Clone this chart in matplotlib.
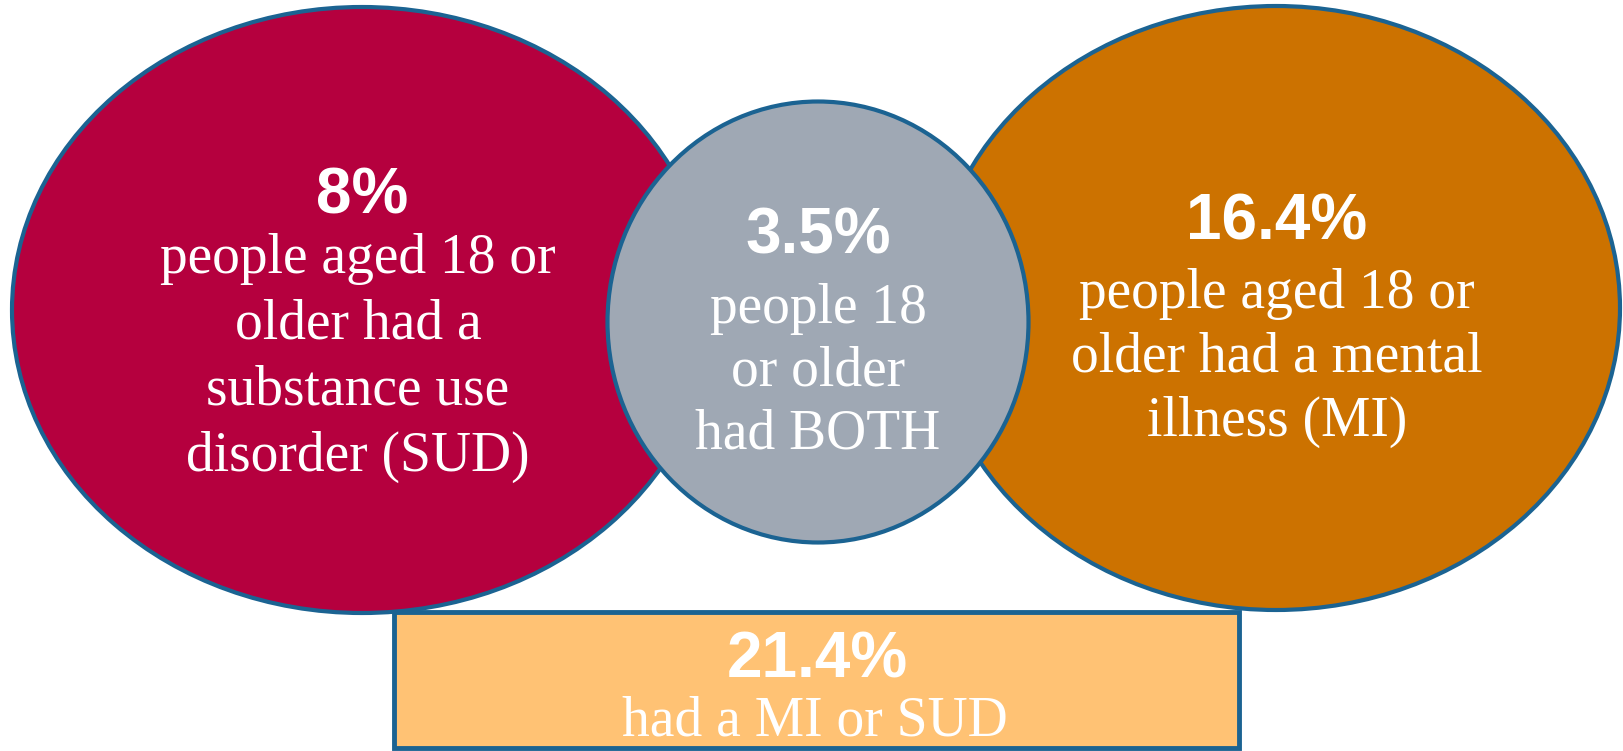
import matplotlib
matplotlib.use("Agg")
import matplotlib.pyplot as plt
from matplotlib.patches import Ellipse, Rectangle

# values shown on the chart
group_names = ["SUD", "BOTH", "MI", "MI or SUD"]
percent_values = [8, 3.5, 16.4, 21.4]
percent_labels = ["8%", "3.5%", "16.4%", "21.4%"]
caption_texts = [
    "people aged 18 or\nolder had a\nsubstance use\ndisorder (SUD)",
    "people 18\nor older\nhad BOTH",
    "people aged 18 or\nolder had a mental\nillness (MI)",
    "had a MI or SUD",
]

# colours
fill_colors = ["#B5003E", "#9FA8B4", "#CC7200", "#FFC274"]
edge_color = "#1B6392"

# layout in pixel space (figure is 1623 x 751 px)
W, H = 1623, 751
fig = plt.figure(figsize=(W / 100, H / 100), dpi=100)
ax = fig.add_axes([0, 0, 1, 1])
ax.set_xlim(0, W)
ax.set_ylim(H, 0)
ax.axis("off")

# shapes: (center x, center y, width, height)
shapes = [
    (362, 310, 700, 606),   # SUD ellipse
    (818, 322, 421, 441),   # BOTH circle
    (1276, 308, 688, 604),  # MI ellipse
]
draw_order = [0, 2, 1]
for i in draw_order:
    cx, cy, w, h = shapes[i]
    ax.add_patch(Ellipse((cx, cy), w, h, facecolor=fill_colors[i],
                         edgecolor=edge_color, linewidth=3, zorder=2 + (i == 1)))

rect = (394, 612, 845, 136)
ax.add_patch(Rectangle((rect[0], rect[1]), rect[2], rect[3],
                       facecolor=fill_colors[3], edgecolor=edge_color,
                       linewidth=3.5, zorder=4))

# text positions: percent label, caption block center, line spacing
pct_pos = [(362, 196), (818, 237), (1277, 222), (817, 661)]
cap_pos = [(358, 358), (818, 372), (1277, 358), (815, 722)]
cap_spacing = [1.35, 1.27, 1.3, 1.2]

for i in range(4):
    ax.text(pct_pos[i][0], pct_pos[i][1], percent_labels[i],
            ha="center", va="center", color="white", fontsize=46,
            fontweight="bold", family="Liberation Sans", zorder=5)
    ax.text(cap_pos[i][0], cap_pos[i][1], caption_texts[i],
            ha="center", va="center", color="white", fontsize=40,
            family="Liberation Serif", linespacing=cap_spacing[i], zorder=5)

fig.savefig("out.png", dpi=100, facecolor="white")
